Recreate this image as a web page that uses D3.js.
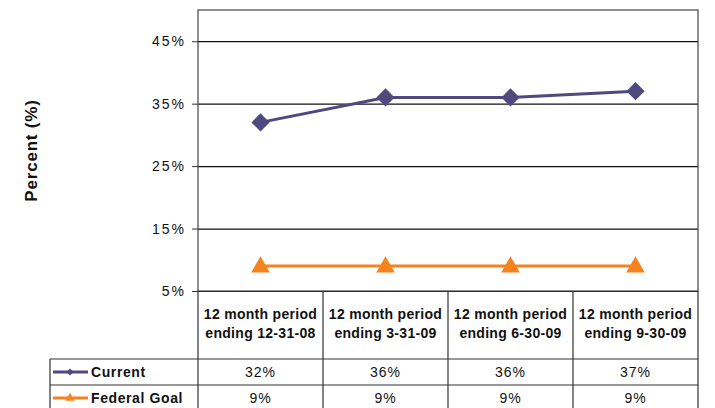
<!DOCTYPE html>
<html>
<head>
<meta charset="utf-8">
<script src="https://cdn.jsdelivr.net/npm/d3@7"></script>
<style>
  body { margin: 0; background: #fff; }
  svg { display: block; }
  text { font-family: "Liberation Sans", Arial, sans-serif; fill: #111; }
</style>
</head>
<body>
<div id="chart"></div>
<script>
// chart values
var categories = ["12-31-08", "3-31-09", "6-30-09", "9-30-09"];
var categoryLines = [
  ["12 month period", "ending 12-31-08"],
  ["12 month period", "ending 3-31-09"],
  ["12 month period", "ending 6-30-09"],
  ["12 month period", "ending 9-30-09"]
];
var seriesNames = ["Current", "Federal Goal"];
var currentValues = [32, 36, 36, 37];
var goalValues = [9, 9, 9, 9];
var yTicks = [5, 15, 25, 35, 45];
var yDomain = [5, 50];
var yTitle = "Percent (%)";

var width = 715, height = 408;
var colors = ["#4f4980", "#f5841f"];

// note: "top" is taken by window.top, so plot edges get their own names
var plotLeft = 198, plotRight = 698, plotTop = 10, plotBottom = 291;
var headerBottom = 359, rowH = 26;

var svg = d3.select("#chart")
  .append("svg")
    .attr("width", width)
    .attr("height", height);

var x = d3.scaleBand()
  .domain(categories)
  .range([plotLeft, plotRight]);

var y = d3.scaleLinear()
  .domain(yDomain)
  .range([plotBottom, plotTop]);

// gridlines
svg.append("g")
  .attr("transform", "translate(" + plotLeft + ",0)")
  .call(d3.axisLeft(y).tickValues(yTicks).tickSize(-(plotRight - plotLeft)).tickFormat(""))
  .call(function(g){
    g.select(".domain").remove();
    g.selectAll("line").attr("stroke", "#111").attr("stroke-width", 1.2);
  });

// outer ticks + labels
svg.append("g")
  .attr("transform", "translate(" + plotLeft + ",0)")
  .call(d3.axisLeft(y).tickValues(yTicks).tickSize(6).tickPadding(6)
    .tickFormat(function(d){ return d + "%"; }))
  .call(function(g){
    g.select(".domain").remove();
    g.selectAll("line").attr("stroke", "#333");
    g.selectAll("text")
      .style("font-size", "14px")
      .style("letter-spacing", "2px")
      .attr("fill", "#222");
  });

// plot border
svg.append("rect")
  .attr("x", plotLeft).attr("y", plotTop)
  .attr("width", plotRight - plotLeft).attr("height", plotBottom - plotTop)
  .attr("fill", "none").attr("stroke", "#444").attr("stroke-width", 1.2);

// y title
svg.append("text")
  .attr("transform", "translate(37," + ((plotTop + plotBottom) / 2) + ")rotate(-90)")
  .attr("text-anchor", "middle")
  .style("font-size", "17px")
  .style("font-weight", "bold")
  .style("letter-spacing", "0.8px")
  .text(yTitle);

// data table
var table = svg.append("g");
var rowTops = [headerBottom, headerBottom + rowH];
var tableBottom = headerBottom + rowH * 2;

// horizontal lines
[headerBottom, headerBottom + rowH, tableBottom].forEach(function(yy){
  table.append("line")
    .attr("x1", 50).attr("x2", plotRight)
    .attr("y1", yy).attr("y2", yy);
});
// vertical lines
table.selectAll("line.v")
  .data(categories.concat(["end"]))
  .enter().append("line")
    .attr("class", "v")
    .attr("x1", function(d, i){ return i < categories.length ? x(d) : plotRight; })
    .attr("x2", function(d, i){ return i < categories.length ? x(d) : plotRight; })
    .attr("y1", plotBottom).attr("y2", tableBottom);
table.append("line")
  .attr("x1", 50).attr("x2", 50)
  .attr("y1", headerBottom).attr("y2", tableBottom);
table.selectAll("line").attr("stroke", "#333").attr("stroke-width", 1.2);

// header text
var header = table.selectAll("text.h")
  .data(categoryLines)
  .enter().append("text")
    .attr("class", "h")
    .attr("text-anchor", "middle")
    .style("font-size", "14px")
    .style("font-weight", "bold")
    .style("letter-spacing", "0.3px");
header.selectAll("tspan")
  .data(function(d, i){ return d.map(function(t){ return {t: t, c: categories[i]}; }); })
  .enter().append("tspan")
    .attr("x", function(d){ return x(d.c) + x.bandwidth() / 2; })
    .attr("y", function(d, j){ return 319 + j * 19; })
    .text(function(d){ return d.t; });

// value cells
[currentValues, goalValues].forEach(function(vals, r){
  table.selectAll("text.v" + r)
    .data(vals)
    .enter().append("text")
      .attr("class", "v" + r)
      .attr("x", function(d, i){ return x(categories[i]) + x.bandwidth() / 2; })
      .attr("y", rowTops[r] + 18)
      .attr("text-anchor", "middle")
      .style("font-size", "14px")
      .style("letter-spacing", "1px")
      .text(function(d){ return d + "%"; });
});

// markers: excel style diamond is a square turned 45 degrees
var square = d3.symbol().type(d3.symbolSquare);
var triangle = d3.symbol().type(d3.symbolTriangle);

function marker(r, big){
  if (r == 0) return square.size(big ? 165 : 26)();
  return triangle.size(big ? 150 : 36)();
}
function markerRot(r){ return r == 0 ? "rotate(45)" : ""; }

seriesNames.forEach(function(name, r){
  var cy = rowTops[r] + rowH / 2;
  table.append("line")
    .attr("x1", 53).attr("x2", 88)
    .attr("y1", cy).attr("y2", cy)
    .attr("stroke", colors[r]).attr("stroke-width", 3);
  table.append("path")
    .attr("transform", "translate(70," + cy + ")" + markerRot(r))
    .attr("d", marker(r, false))
    .attr("fill", colors[r]);
  table.append("text")
    .attr("x", 91).attr("y", cy + 5)
    .style("font-size", "14px")
    .style("font-weight", "bold")
    .style("letter-spacing", "0.6px")
    .text(name);
});

// lines
var line = d3.line()
  .x(function(d, i){ return x(categories[i]) + x.bandwidth() / 2; })
  .y(function(d){ return y(d); });

[currentValues, goalValues].forEach(function(vals, r){
  svg.append("path")
    .datum(vals)
    .attr("d", line)
    .attr("fill", "none")
    .attr("stroke", colors[r])
    .attr("stroke-width", 3);

  svg.append("g")
    .selectAll("path")
    .data(vals)
    .enter().append("path")
      .attr("transform", function(d, i){
        return "translate(" + (x(categories[i]) + x.bandwidth() / 2) + "," + (y(d) + (r == 1 ? 1 : 0)) + ")" + markerRot(r);
      })
      .attr("d", marker(r, true))
      .attr("fill", colors[r]);
});
</script>
</body>
</html>
